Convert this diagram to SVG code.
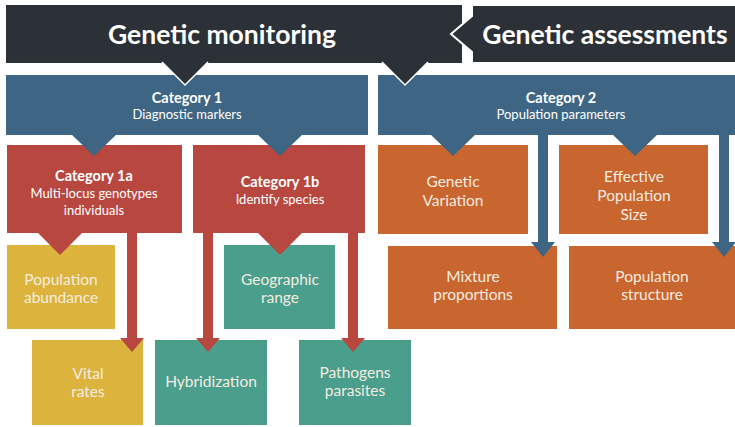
<svg xmlns="http://www.w3.org/2000/svg" width="735" height="427" viewBox="0 0 735 427">
<style>
text{font-family:Lato,"Liberation Sans",sans-serif;fill:#ffffff;text-anchor:middle}
.h{font-size:26.5px;font-weight:bold}
.c{font-size:14.5px;font-weight:bold}
.s{font-size:13px}
.t{font-size:15.5px;fill:#f4ece0}
.dark{fill:#2b3137}
.blue{fill:#3e6684}
.red{fill:#b8473f}
.yel{fill:#dcb43d}
.grn{fill:#4a9e8c}
.org{fill:#c9652e}
</style>
<rect width="735" height="427" fill="#ffffff"/>
<g id="genetic-monitoring">
<rect class="dark" x="6" y="5" width="456" height="58"/>
<text class="h" x="222" y="44">Genetic monitoring</text>
</g>
<g id="genetic-assessments">
<path class="dark" d="M472,5 H735 V63 H472 V52 L451,34 L472,16 Z" stroke="#ffffff" stroke-width="2"/>
<rect class="dark" x="473" y="6" width="262" height="56"/>
<text class="h" x="605" y="44">Genetic assessments</text>
</g>
<g id="category-1">
<rect class="blue" x="6" y="75" width="362" height="60"/>
<text class="c" x="187" y="103">Category 1</text>
<text class="s" x="187" y="119">Diagnostic markers</text>
</g>
<g id="category-2">
<rect class="blue" x="378" y="75" width="357" height="60"/>
<text class="c" x="561" y="103">Category 2</text>
<text class="s" x="561" y="119">Population parameters</text>
</g>
<g id="category-1a">
<rect class="red" x="7" y="145" width="175" height="88"/>
<text class="c" x="94" y="181">Category 1a</text>
<text class="s" x="94" y="198">Multi-locus genotypes</text>
<text class="s" x="94" y="215">individuals</text>
</g>
<g id="category-1b">
<rect class="red" x="193" y="145" width="172" height="88"/>
<text class="c" x="280" y="187">Category 1b</text>
<text class="s" x="280" y="204">Identify species</text>
</g>
<g id="genetic-variation">
<rect class="org" x="378" y="145" width="150" height="89"/>
<text class="t" x="453" y="187">Genetic</text>
<text class="t" x="453" y="206">Variation</text>
</g>
<g id="effective-population-size">
<rect class="org" x="559" y="145" width="149" height="89"/>
<text class="t" x="634" y="182">Effective</text>
<text class="t" x="634" y="201">Population</text>
<text class="t" x="634" y="220">Size</text>
</g>
<g id="population-abundance">
<rect class="yel" x="7" y="245" width="108" height="84"/>
<text class="t" x="61" y="285">Population</text>
<text class="t" x="61" y="303">abundance</text>
</g>
<g id="geographic-range">
<rect class="grn" x="224" y="245" width="111" height="84"/>
<text class="t" x="280" y="285">Geographic</text>
<text class="t" x="280" y="303">range</text>
</g>
<g id="mixture-proportions">
<rect class="org" x="388" y="246" width="169" height="83"/>
<text class="t" x="473" y="282">Mixture</text>
<text class="t" x="473" y="300">proportions</text>
</g>
<g id="population-structure">
<rect class="org" x="569" y="246" width="166" height="83"/>
<text class="t" x="652" y="282">Population</text>
<text class="t" x="652" y="300">structure</text>
</g>
<g id="vital-rates">
<rect class="yel" x="32" y="340" width="111" height="85"/>
<text class="t" x="88" y="379">Vital</text>
<text class="t" x="88" y="397">rates</text>
</g>
<g id="hybridization">
<rect class="grn" x="155" y="340" width="112" height="85"/>
<text class="t" x="211" y="387">Hybridization</text>
</g>
<g id="pathogens-parasites">
<rect class="grn" x="299" y="340" width="112" height="85"/>
<text class="t" x="355" y="378">Pathogens</text>
<text class="t" x="355" y="396">parasites</text>
</g>
<g id="connectors">
<polyline class="dark" points="162,62 185,85 208,62" stroke="#ffffff" stroke-width="1.5"/>
<polyline class="dark" points="382,62 405,85 428,62" stroke="#ffffff" stroke-width="1.5"/>
<polygon class="blue" points="71,134 94,156 117,134"/>
<polygon class="blue" points="257,134 280,156 303,134"/>
<polygon class="blue" points="430,134 453,156 476,134"/>
<polygon class="blue" points="612,134 635,156 658,134"/>
<polygon class="red" points="37,232 60,255 83,232"/>
<polygon class="red" points="257,232 280,255 303,232"/>
<path class="red" d="M127,232 H137 V338 H144 L132,352 L120,338 H127 Z"/>
<path class="red" d="M203,232 H213 V338 H220 L208,352 L196,338 H203 Z"/>
<path class="red" d="M348,232 H358 V338 H365 L353,352 L341,338 H348 Z"/>
<path class="blue" d="M538,134 H548 V242 H555 L543,257 L531,242 H538 Z"/>
<path class="blue" d="M719,134 H729 V242 H736 L724,257 L712,242 H719 Z"/>
</g>
</svg>
